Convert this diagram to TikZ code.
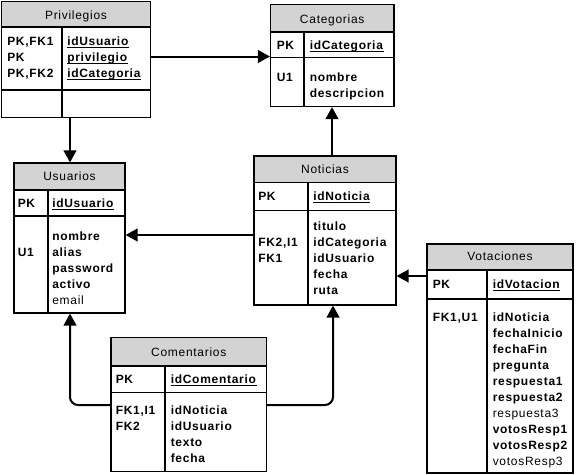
\documentclass[tikz,border=0pt]{standalone}
\usepackage{fontspec}
\setmainfont{Liberation Sans}[LetterSpace=6]
\usepackage{xcolor}
\usetikzlibrary{arrows.meta,fit}
\definecolor{headgray}{RGB}{211,211,211}
\newcommand{\pkname}[1]{\underline{\smash{\textbf{#1}}}}
\tikzset{
  tablebox/.style={draw, line width=0.9pt, inner sep=0pt},
  tabletitle/.style={draw, line width=0.9pt, fill=headgray, inner sep=0pt},
  titletext/.style={anchor=base, inner sep=0pt, font=\fontsize{9}{12}\selectfont},
  coltext/.style={anchor=north west, inner sep=0pt, align=left, font=\fontsize{9}{12}\selectfont\bfseries},
  fk/.style={line width=1.5pt, -{Triangle[length=9pt,width=9.5pt]}}
}
\begin{document}
\begin{tikzpicture}[x=0.75pt,y=-0.75pt]
\useasboundingbox (0,0) rectangle (579,475);
% Privilegios
\node[tablebox, fit={(1.5,1.5) (150.5,117.5)}] (privilegios) {};
\node[tabletitle, fit={(1.5,1.5) (150.5,27)}] (privilegiosHead) {};
\node[titletext] (privilegiosName) at (76,19) {Privilegios};
\draw[line width=0.9pt] (1.5,90) -- (150.5,90);
\draw[line width=0.9pt] (62,27) -- (62,117.5);
\node[coltext] (privilegiosKeys) at (7,33.8) {\strut PK,FK1\\PK\\PK,FK2};
\node[coltext] (privilegiosFields) at (67,33.8) {\strut\pkname{idUsuario}\\\pkname{privilegio}\\\pkname{idCategoria}};
% Categorias
\node[tablebox, fit={(270.5,4.5) (394,106.5)}] (categorias) {};
\node[tabletitle, fit={(270.5,4.5) (394,32)}] (categoriasHead) {};
\node[titletext] (categoriasName) at (332.25,23) {Categorias};
\draw[line width=0.9pt] (270.5,57.5) -- (394,57.5);
\draw[line width=0.9pt] (304,32) -- (304,106.5);
\node[coltext] (categoriasPk) at (276.5,37.8) {\strut PK};
\node[coltext] (categoriasId) at (309.5,37.8) {\strut\pkname{idCategoria}};
\node[coltext] (categoriasKeys) at (276.5,69.8) {\strut U1};
\node[coltext] (categoriasFields) at (309.5,69.8) {\strut nombre\\descripcion};
% Usuarios
\node[tablebox, fit={(14,163) (125,313)}] (usuarios) {};
\node[tabletitle, fit={(14,163) (125,190)}] (usuariosHead) {};
\node[titletext] (usuariosName) at (69.5,180) {Usuarios};
\draw[line width=0.9pt] (14,216) -- (125,216);
\draw[line width=0.9pt] (48,190) -- (48,313);
\node[coltext] (usuariosPk) at (17.5,195.8) {\strut PK};
\node[coltext] (usuariosId) at (52,195.8) {\strut\pkname{idUsuario}};
\node[coltext] (usuariosKeys) at (17.5,228.8) {\strut\\U1};
\node[coltext] (usuariosFields) at (52,228.8) {\strut nombre\\alias\\password\\activo\\\textmd{email}};
% Noticias
\node[tablebox, fit={(254,156) (396,305)}] (noticias) {};
\node[tabletitle, fit={(254,156) (396,182.5)}] (noticiasHead) {};
\node[titletext] (noticiasName) at (325,173) {Noticias};
\draw[line width=0.9pt] (254,210.5) -- (396,210.5);
\draw[line width=0.9pt] (308,182.5) -- (308,305);
\node[coltext] (noticiasPk) at (258,188.8) {\strut PK};
\node[coltext] (noticiasId) at (313,188.8) {\strut\pkname{idNoticia}};
\node[coltext] (noticiasKeys) at (258,218.8) {\strut\\FK2,I1\\FK1};
\node[coltext] (noticiasFields) at (313,218.8) {\strut titulo\\idCategoria\\idUsuario\\fecha\\ruta};
% Votaciones
\node[tablebox, fit={(427,244) (573,473)}] (votaciones) {};
\node[tabletitle, fit={(427,244) (573,270)}] (votacionesHead) {};
\node[titletext] (votacionesName) at (500,260) {Votaciones};
\draw[line width=0.9pt] (427,299) -- (573,299);
\draw[line width=0.9pt] (487,270) -- (487,473);
\node[coltext] (votacionesPk) at (432.5,276.8) {\strut PK};
\node[coltext] (votacionesId) at (492.5,276.8) {\strut\pkname{idVotacion}};
\node[coltext] (votacionesKeys) at (432.5,309.8) {\strut FK1,U1};
\node[coltext] (votacionesFields) at (492.5,309.8) {\strut idNoticia\\fechaInicio\\fechaFin\\pregunta\\respuesta1\\respuesta2\\\textmd{respuesta3}\\votosResp1\\votosResp2\\\textmd{votosResp3}};
% Comentarios
\node[tablebox, fit={(111,337.5) (266.5,471.5)}] (comentarios) {};
\node[tabletitle, fit={(111,337.5) (266.5,366)}] (comentariosHead) {};
\node[titletext] (comentariosName) at (188.75,356) {Comentarios};
\draw[line width=0.9pt] (111,392.5) -- (266.5,392.5);
\draw[line width=0.9pt] (165,366) -- (165,471.5);
\node[coltext] (comentariosPk) at (115.5,371.8) {\strut PK};
\node[coltext] (comentariosId) at (170.5,371.8) {\strut\pkname{idComentario}};
\node[coltext] (comentariosKeys) at (115.5,402.8) {\strut FK1,I1\\FK2};
\node[coltext] (comentariosFields) at (170.5,402.8) {\strut idNoticia\\idUsuario\\texto\\fecha};
% relaciones
\draw[fk] (privilegios.east |- 0,56.5) -- (categorias.west |- 0,56.5);
\draw[fk] (privilegios.south -| 70,0) -- (usuarios.north -| 70,0);
\draw[fk] (noticias.west |- 0,235) -- (usuarios.east |- 0,235);
\draw[fk] (noticias.north -| 332,0) -- (categorias.south -| 332,0);
\draw[fk] (votaciones.west |- 0,276) -- (noticias.east |- 0,276);
\draw[fk, rounded corners=6pt] (comentarios.west |- 0,405) -| (usuarios.south -| 70,0);
\draw[fk, rounded corners=6pt] (comentarios.east |- 0,405) -| (noticias.south -| 333,0);
\end{tikzpicture}
\end{document}
